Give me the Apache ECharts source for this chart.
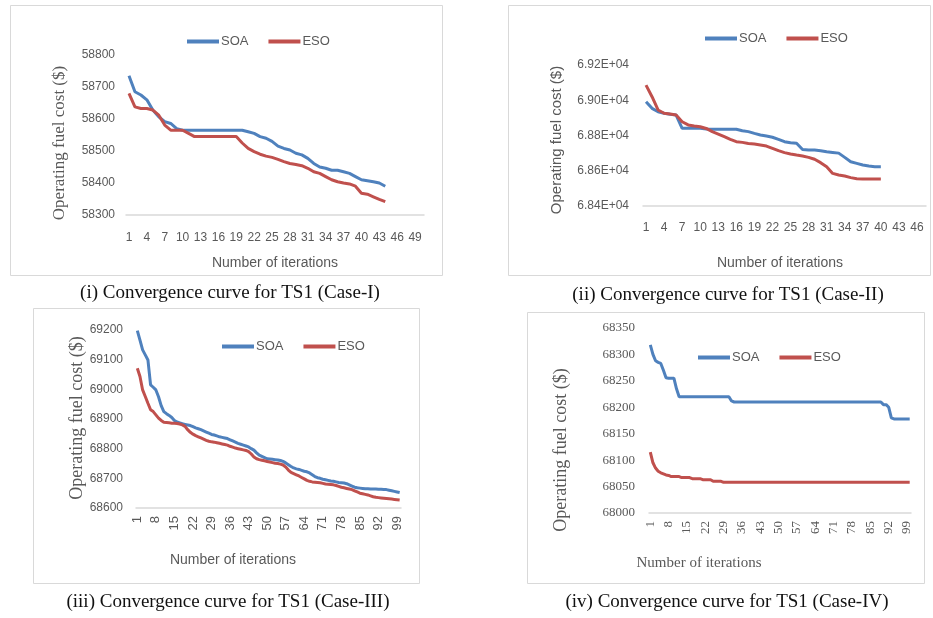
<!DOCTYPE html>
<html>
<head>
<meta charset="utf-8">
<script src="https://cdn.jsdelivr.net/npm/echarts@6/dist/echarts.min.js"></script>
<style>html,body{margin:0;padding:0;background:#fff}#c{width:933px;height:618px}</style>
</head>
<body>
<div id="c"></div>
<script>
// ---- Data ----
var seriesNames = ['SOA', 'ESO'];
var catCount1 = 50, catCount2 = 47, catCount3 = 100, catCount4 = 100;

var soa1 = [58735,58685,58675,58660,58628,58607,58592,58586,58570,58565,58565,58565,58565,58565,58565,58565,58565,58565,58565,58565,58560,58555,58545,58540,58530,58515,58508,58503,58493,58488,58477,58461,58450,58446,58440,58440,58435,58430,58420,58410,58407,58404,58400,58390];
var eso1 = [58680,58638,58633,58633,58628,58612,58581,58565,58565,58565,58555,58545,58545,58545,58545,58545,58545,58545,58545,58525,58508,58498,58490,58484,58480,58474,58467,58461,58458,58454,58446,58435,58430,58420,58410,58404,58400,58397,58390,58368,58365,58357,58349,58342];

var soa2 = [68992,68954,68935,68926,68920,68916,68841,68841,68841,68841,68837,68836,68835,68835,68835,68835,68827,68822,68812,68803,68797,68790,68778,68765,68759,68756,68721,68718,68718,68714,68708,68704,68700,68676,68651,68642,68633,68627,68623,68623];
var eso2 = [69086,69020,68945,68926,68922,68916,68878,68860,68854,68850,68840,68822,68808,68793,68778,68765,68761,68755,68752,68746,68740,68727,68714,68703,68695,68689,68684,68676,68665,68646,68623,68585,68576,68570,68561,68555,68553,68553,68553,68553];

var soa3 = [69198,69166,69133,69116,69099,69015,69007,68998,68975,68945,68925,68918,68912,68905,68895,68890,68887,68884,68882,68880,
            68878,68874,68870,68867,68864,68860,68856,68852,68848,68846,68843,68840,68838,68836,68834,68830,68826,68822,68818,68815,
            68812,68809,68806,68800,68795,68786,68778,68774,68770,68766,68765,68764,68763,68762,68760,68757,68752,68746,68740,68735,
            68732,68730,68727,68724,68722,68718,68712,68706,68702,68700,68697,68695,68693,68691,68690,68688,68686,68685,68684,68682,
            68678,68674,68670,68668,68667,68666,68665,68665,68664,68664,68664,68663,68663,68662,68662,68660,68658,68656,68654,68652];
var eso3 = [69071,69043,68998,68976,68953,68931,68925,68914,68903,68895,68889,68888,68887,68886,68886,68885,68883,68880,68875,68864,
            68855,68849,68844,68840,68836,68832,68828,68825,68823,68822,68820,68818,68816,68814,68812,68808,68805,68802,68800,68798,
            68796,68794,68790,68782,68772,68766,68763,68761,68759,68757,68755,68753,68751,68750,68748,68745,68738,68728,68720,68716,
            68712,68708,68703,68698,68693,68690,68688,68687,68686,68685,68683,68681,68680,68679,68678,68676,68673,68670,68668,68666,
            68664,68662,68658,68654,68650,68648,68646,68644,68641,68638,68636,68635,68634,68633,68632,68631,68630,68629,68628,68627];

var soa4 = [68318,68300,68288,68285,68283,68270,68256,68255,68255,68255,68235,68220,68220,68220,68220,68220,68220,68220,68220,68220,
            68220,68220,68220,68220,68220,68220,68220,68220,68220,68220,68220,68212,68210,68210,68210,68210,68210,68210,68210,68210,
            68210,68210,68210,68210,68210,68210,68210,68210,68210,68210,68210,68210,68210,68210,68210,68210,68210,68210,68210,68210,
            68210,68210,68210,68210,68210,68210,68210,68210,68210,68210,68210,68210,68210,68210,68210,68210,68210,68210,68210,68210,
            68210,68210,68210,68210,68210,68210,68210,68210,68210,68205,68205,68200,68180,68178,68178,68178,68178,68178,68178,68178];
var eso4 = [68115,68095,68085,68079,68076,68074,68072,68071,68069,68069,68069,68069,68067,68067,68067,68067,68065,68065,68065,68065,
            68063,68063,68063,68063,68060,68060,68060,68060,68058,68058,68058,68058,68058,68058,68058,68058,68058,68058,68058,68058,
            68058,68058,68058,68058,68058,68058,68058,68058,68058,68058,68058,68058,68058,68058,68058,68058,68058,68058,68058,68058,
            68058,68058,68058,68058,68058,68058,68058,68058,68058,68058,68058,68058,68058,68058,68058,68058,68058,68058,68058,68058,
            68058,68058,68058,68058,68058,68058,68058,68058,68058,68058,68058,68058,68058,68058,68058,68058,68058,68058,68058,68058];

var captions = ['(i) Convergence curve for TS1 (Case-I)', '(ii) Convergence curve for TS1 (Case-II)',
                '(iii) Convergence curve for TS1 (Case-III)', '(iv) Convergence curve for TS1 (Case-IV)'];
var yTitle = 'Operating fuel cost ($)';
var xTitle = 'Number of iterations';

// ---- Build ----
function cats(n){ var a=[]; for(var i=1;i<=n;i++) a.push(String(i)); return a; }
var BLUE = '#4F81BD', RED = '#C0504D', GRAY = '#595959', LINE = '#D9D9D9';
var SANS = 'Liberation Sans', SERIF = 'Liberation Serif';

var grids = [
  {left:126, top:55, width:298, height:160},
  {left:643, top:65, width:283, height:141},
  {left:136, top:330, width:265, height:178},
  {left:649, top:328, width:262, height:185}
];
var yCfg = [
  {min:58300, max:58800, interval:100, font:SANS, size:12, margin:11},
  {min:68400, max:69200, interval:200, font:SANS, size:12, margin:14, fmt:function(v){return (v/10000).toFixed(2)+'E+04';}},
  {min:68600, max:69200, interval:100, font:SANS, size:12, margin:13},
  {min:68000, max:68350, interval:50, font:SERIF, size:13, margin:14}
];
var xCfg = [
  {n:catCount1, interval:2, rotate:0, margin:17, font:SANS, size:12},
  {n:catCount2, interval:2, rotate:0, margin:16, font:SANS, size:12},
  {n:catCount3, interval:6, rotate:90, margin:8, font:SANS, size:13},
  {n:catCount4, interval:6, rotate:90, margin:8, font:SERIF, size:13}
];
var data = [[soa1,eso1],[soa2,eso2],[soa3,eso3],[soa4,eso4]];

var xAxes = [], yAxes = [], series = [];
for (var i=0;i<4;i++){
  xAxes.push({
    type:'category', gridIndex:i, data:cats(xCfg[i].n), boundaryGap:true,
    axisLine:{lineStyle:{color:LINE, width:1.5}}, axisTick:{show:false},
    axisLabel:{interval:xCfg[i].interval, rotate:xCfg[i].rotate, margin:xCfg[i].margin,
               color:GRAY, fontSize:xCfg[i].size, fontFamily:xCfg[i].font}
  });
  yAxes.push({
    type:'value', gridIndex:i, min:yCfg[i].min, max:yCfg[i].max, interval:yCfg[i].interval,
    axisLine:{show:false}, axisTick:{show:false}, splitLine:{show:false},
    axisLabel:{margin:yCfg[i].margin, color:GRAY, fontSize:yCfg[i].size, fontFamily:yCfg[i].font,
               formatter:yCfg[i].fmt || function(v){return String(v);}}
  });
  for (var s=0;s<2;s++){
    series.push({
      name:seriesNames[s], type:'line', xAxisIndex:i, yAxisIndex:i, data:data[i][s],
      showSymbol:false, symbol:'none', lineStyle:{width:3, color:s===0?BLUE:RED},
      itemStyle:{color:s===0?BLUE:RED}, animation:false
    });
  }
}

var legendPos = [{left:182, top:30},{left:700, top:27},{left:217, top:335},{left:693, top:346}];
var legends = legendPos.map(function(p){
  return {left:p.left, top:p.top, data:seriesNames, icon:'rect', itemWidth:32, itemHeight:4, itemGap:20,
          textStyle:{color:GRAY, fontSize:13, fontFamily:SANS, padding:[0,0,0,-3]}, selectedMode:false};
});

var boxes = [[10,5,432,270],[508,5,422,270],[33,308,386,275],[527,312,397,271]];
var graphic = [];
boxes.forEach(function(b){
  graphic.push({type:'rect', shape:{x:b[0]+0.5,y:b[1]+0.5,width:b[2],height:b[3]}, style:{fill:null, stroke:LINE, lineWidth:1}, silent:true, z:-1});
});
function txt(x,y,t,font,size,color,rot){
  return {type:'text', x:x, y:y, rotation:rot||0, style:{text:t, font: size+'px "'+font+'"', fill:color, align:'center', verticalAlign:'middle'}, silent:true};
}
// y titles
graphic.push(txt(60,143,yTitle,SERIF,17,GRAY,Math.PI/2));
graphic.push(txt(557,140,yTitle,SANS,15,GRAY,Math.PI/2));
graphic.push(txt(77,418,yTitle,SERIF,18,GRAY,Math.PI/2));
graphic.push(txt(561,450,yTitle,SERIF,18,GRAY,Math.PI/2));
// x titles
graphic.push(txt(275,263,xTitle,SANS,14,GRAY));
graphic.push(txt(780,263,xTitle,SANS,14,GRAY));
graphic.push(txt(233,560,xTitle,SANS,14,GRAY));
graphic.push(txt(699,563,xTitle,SERIF,15,GRAY));
// captions
graphic.push(txt(230,293,captions[0],SERIF,19,'#111'));
graphic.push(txt(728,295,captions[1],SERIF,19,'#111'));
graphic.push(txt(228,602,captions[2],SERIF,19,'#111'));
graphic.push(txt(727,602,captions[3],SERIF,19,'#111'));

var chart = echarts.init(document.getElementById('c'), null, {renderer:'canvas'});
chart.setOption({
  animation:false,
  backgroundColor:'#fff',
  grid:grids, xAxis:xAxes, yAxis:yAxes, series:series, legend:legends, graphic:graphic
});
</script>
</body>
</html>
